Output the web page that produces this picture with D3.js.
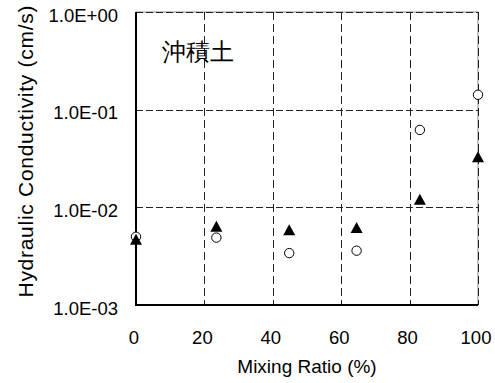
<!DOCTYPE html>
<html>
<head>
<meta charset="utf-8">
<script src="https://cdn.jsdelivr.net/npm/d3@7"></script>
<style>
  html, body { margin: 0; padding: 0; background: #fff; }
  svg { display: block; }
  text { font-family: "Liberation Sans", Arial, sans-serif; fill: #000; }
</style>
</head>
<body>
<svg id="chart" width="495" height="383"></svg>
<script>
// ---- data ----
const mixingRatio = [0, 23.5, 44.8, 64.5, 83.0, 100];
const seriesCircle = [5.0e-3, 4.9e-3, 3.4e-3, 3.6e-3, 0.062, 0.142];
const seriesTriangle = [4.7e-3, 6.4e-3, 5.9e-3, 6.2e-3, 0.0121, 0.033];
const xTicks = [0, 20, 40, 60, 80, 100];
const yTicks = [1e-3, 1e-2, 1e-1, 1];
const yTickLabels = ["1.0E-03", "1.0E-02", "1.0E-01", "1.0E+00"];
const xTitle = "Mixing Ratio (%)";
const yTitle = "Hydraulic Conductivity (cm/s)";
const panelLabel = "沖積土";

// ---- layout ----
const L = 136, R = 478, T = 12, B = 305;
const svg = d3.select("#chart");
const x = d3.scaleLinear().domain([0, 100]).range([L, R]);
const y = d3.scaleLog().domain([1e-3, 1]).range([B, T]);

// plot border (gray)
svg.append("rect")
  .attr("x", L).attr("y", T).attr("width", R - L).attr("height", B - T)
  .attr("fill", "none").attr("stroke", "#8c8c8c").attr("stroke-width", 1);

// gridlines
const grid = svg.append("g");
grid.selectAll("line.h").data(yTicks.slice(1)).join("line")
  .attr("x1", L).attr("x2", R)
  .attr("y1", d => Math.round(y(d)) + 0.5).attr("y2", d => Math.round(y(d)) + 0.5)
  .attr("stroke", "#222").attr("stroke-width", 1).attr("stroke-dasharray", "7,3");
grid.selectAll("line.v").data(xTicks.slice(1)).join("line")
  .attr("y1", T).attr("y2", B)
  .attr("x1", d => Math.round(x(d)) + 0.5).attr("x2", d => Math.round(x(d)) + 0.5)
  .attr("stroke", "#222").attr("stroke-width", 1).attr("stroke-dasharray", "8,4");

// axes lines (black)
svg.append("line").attr("x1", L).attr("x2", L).attr("y1", T).attr("y2", B + 1)
  .attr("stroke", "#000").attr("stroke-width", 2);
svg.append("line").attr("x1", L - 1).attr("x2", R).attr("y1", B).attr("y2", B)
  .attr("stroke", "#000").attr("stroke-width", 2);

// y tick labels
svg.append("g").selectAll("text").data(yTicks).join("text")
  .attr("x", 118).attr("y", d => y(d) + 9.5)
  .attr("text-anchor", "end").attr("font-size", 18.5)
  .text((d, i) => yTickLabels[i]);

// x tick labels
svg.append("g").selectAll("text").data(xTicks).join("text")
  .attr("x", d => x(d) - 2).attr("y", 344)
  .attr("text-anchor", "middle").attr("font-size", 18.5)
  .text(d => d);

// axis titles
svg.append("text").attr("x", (L + R) / 2).attr("y", 373)
  .attr("text-anchor", "middle").attr("font-size", 19).text(xTitle);
svg.append("text")
  .attr("transform", "translate(33,151.5) rotate(-90)")
  .attr("text-anchor", "middle").attr("font-size", 21)
  .attr("textLength", 292).attr("lengthAdjust", "spacing")
  .text(yTitle);

// panel label
svg.append("text").attr("x", 162).attr("y", 60)
  .attr("font-family", "'Noto Sans CJK JP', sans-serif")
  .attr("font-size", 24).text(panelLabel);

// markers
svg.append("g").selectAll("circle").data(mixingRatio).join("circle")
  .attr("cx", d => x(d)).attr("cy", (d, i) => y(seriesCircle[i]))
  .attr("r", 4.7).attr("fill", "#fff").attr("stroke", "#000").attr("stroke-width", 1);

const tri = (cx, cy) => `M${cx},${cy - 5.5}L${cx + 6},${cy + 5.5}L${cx - 6},${cy + 5.5}Z`;
svg.append("g").selectAll("path").data(mixingRatio).join("path")
  .attr("d", (d, i) => tri(x(d), y(seriesTriangle[i])))
  .attr("fill", "#000");
</script>
</body>
</html>
